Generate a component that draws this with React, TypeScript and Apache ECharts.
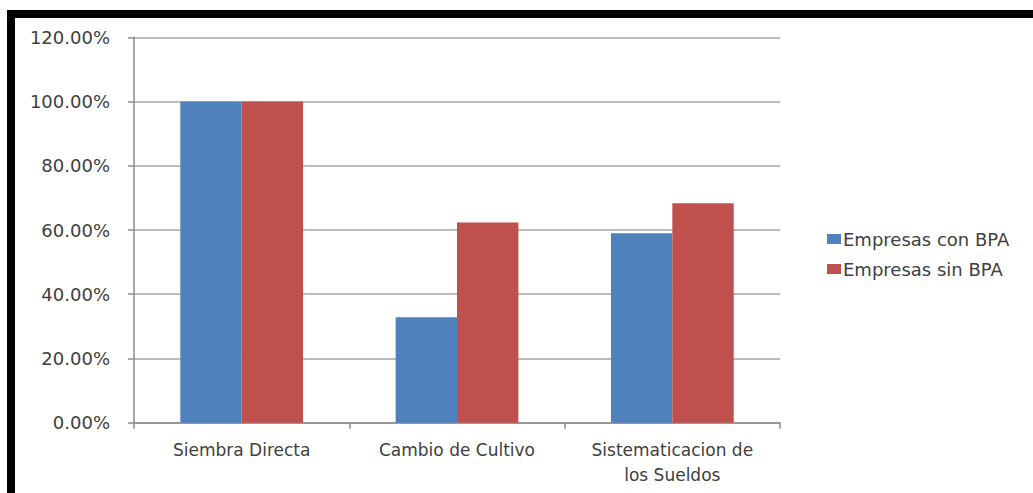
import React, { useEffect, useRef } from "react";
import * as echarts from "echarts";

const categories = ["Siembra Directa", "Cambio de Cultivo", "Sistematicacion de los Sueldos"];
const seriesNames = ["Empresas con BPA", "Empresas sin BPA"];
const conBPA = [100, 32.8, 59.0];
const sinBPA = [100, 62.3, 68.3];
const colors = ["#4F81BD", "#C0504D"];

export default function App() {
  const ref = useRef<HTMLDivElement>(null);
  useEffect(() => {
    if (!ref.current) return;
    const chart = echarts.init(ref.current, undefined, { renderer: "svg" });
    const font = "DejaVu Sans";
    chart.setOption({
      animation: false,
      backgroundColor: "#ffffff",
      textStyle: { fontFamily: font },
      grid: { left: 134, right: 253, top: 37.3, bottom: 70.3, containLabel: false },
      legend: {
        orient: "vertical",
        left: 822,
        top: 225,
        itemWidth: 14,
        itemHeight: 10,
        itemGap: 12,
        icon: "rect",
        textStyle: { fontFamily: font, fontSize: 18, color: "#404040", padding: [0, 0, 0, -3] },
        data: seriesNames,
      },
      xAxis: {
        type: "category",
        data: categories,
        axisLine: { lineStyle: { color: "#8C8C8C", width: 1.5 } },
        axisTick: { show: true, length: 6, lineStyle: { color: "#8C8C8C", width: 1.5 } },
        axisLabel: {
          margin: 15,
          fontSize: 17,
          lineHeight: 25,
          color: "#404040",
          fontFamily: font,
          interval: 0,
          formatter: (v: string) => v.replace(" de los", " de\nlos"),
        },
      },
      yAxis: {
        type: "value",
        min: 0,
        max: 120,
        interval: 20,
        axisLine: { show: true, lineStyle: { color: "#8C8C8C", width: 1.5 } },
        axisTick: { show: true, length: 6, lineStyle: { color: "#8C8C8C", width: 1.5 } },
        splitLine: { lineStyle: { color: "#A6A6A6", width: 1.5 } },
        axisLabel: {
          margin: 24,
          fontSize: 18,
          color: "#404040",
          fontFamily: font,
          formatter: (v: number) => v.toFixed(2) + "%",
        },
      },
      series: [
        {
          name: seriesNames[0],
          type: "bar",
          data: conBPA,
          itemStyle: { color: colors[0] },
          barGap: "0%",
          barCategoryGap: "43%",
        },
        {
          name: seriesNames[1],
          type: "bar",
          data: sinBPA,
          itemStyle: { color: colors[1] },
          barGap: "0%",
          barCategoryGap: "43%",
        },
      ],
      graphic: [
        { type: "rect", shape: { x: 7, y: 10, width: 8, height: 483 }, style: { fill: "#000" }, z: 100 },
        { type: "rect", shape: { x: 7, y: 10, width: 1026, height: 8 }, style: { fill: "#000" }, z: 100 },
      ],
    });
    return () => chart.dispose();
  }, []);
  return (
    <div
      ref={ref}
      style={{ position: "absolute", left: 0, top: 0, width: 1033, height: 493 }}
    />
  );
}
